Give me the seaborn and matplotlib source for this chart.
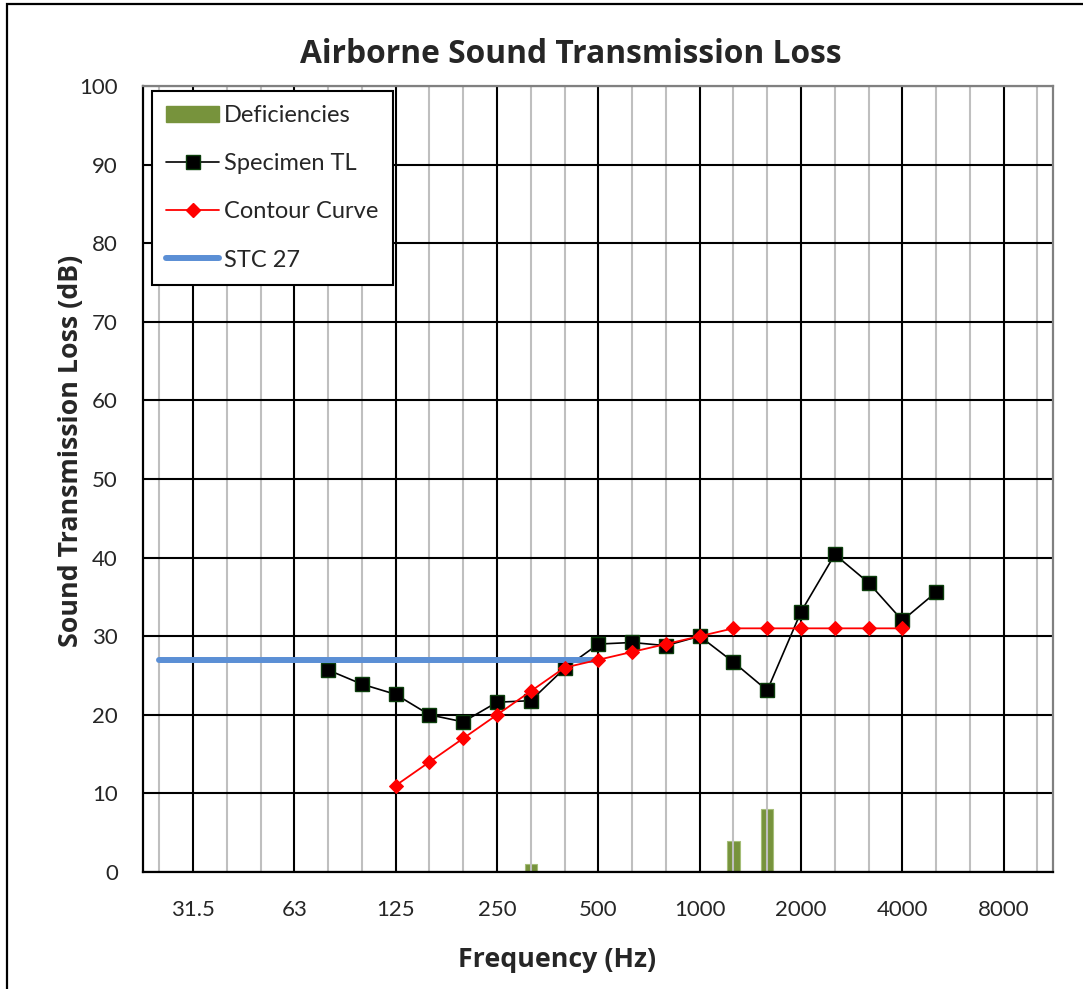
import matplotlib
matplotlib.use("Agg")
import matplotlib.pyplot as plt
from matplotlib.patches import Rectangle
from matplotlib.lines import Line2D
from matplotlib.patches import Patch
import seaborn as sns
import pandas as pd
import numpy as np

# ---- data ----
bands = ['25', '31.5', '40', '50', '63', '80', '100', '125', '160', '200', '250', '315',
         '400', '500', '630', '800', '1000', '1250', '1600', '2000', '2500', '3150',
         '4000', '5000', '6300', '8000', '10000']
label_bands = ['31.5', '63', '125', '250', '500', '1000', '2000', '4000', '8000']

tl_bands = ['80', '100', '125', '160', '200', '250', '315', '400', '500', '630', '800',
            '1000', '1250', '1600', '2000', '2500', '3150', '4000', '5000']
tl_values = [25.7, 23.9, 22.6, 20.0, 19.1, 21.6, 21.8, 25.9, 29.0, 29.2, 28.8,
             30.0, 26.7, 23.1, 33.1, 40.4, 36.8, 32.0, 35.6]

contour_bands = ['125', '160', '200', '250', '315', '400', '500', '630', '800', '1000',
                 '1250', '1600', '2000', '2500', '3150', '4000']
contour_values = [11, 14, 17, 20, 23, 26, 27, 28, 29, 30, 31, 31, 31, 31, 31, 31]

def_bands = ['315', '1250', '1600']
def_values = [1, 4, 8]

stc_bands = ['25', '500']
stc_values = [27, 27]
stc_label = 'STC 27'

# ---- style ----
sns.set_style('white')
plt.rcParams['font.family'] = ['Lato', 'DejaVu Sans']
BOLD = ['Open Sans', 'DejaVu Sans']

W, H = 1083, 989
fig = plt.figure(figsize=(W / 100, H / 100), dpi=100)
L, R, T, B = 143, 1053, 86, 872
ax = fig.add_axes([L / W, 1 - B / H, (R - L) / W, (B - T) / H])

pos = {b: i for i, b in enumerate(bands)}

df_def = pd.DataFrame({'band': def_bands, 'value': def_values})
df_tl = pd.DataFrame({'x': [pos[b] for b in tl_bands], 'y': tl_values})
df_ct = pd.DataFrame({'x': [pos[b] for b in contour_bands], 'y': contour_values})
df_stc = pd.DataFrame({'x': [pos[b] for b in stc_bands], 'y': stc_values})

def_color = '#77933C'
sns.barplot(data=df_def, x='band', y='value', order=bands, color=def_color,
            width=0.36, saturation=1, ax=ax, zorder=0.3, edgecolor='#A5BE78', linewidth=0.8)

sns.lineplot(data=df_tl, x='x', y='y', color='black', lw=1.2, marker='s', markersize=9.5,
             markerfacecolor='black', markeredgecolor='#0B3D0B', markeredgewidth=1.0,
             ax=ax, zorder=2)
sns.lineplot(data=df_stc, x='x', y='y', color='#5B8FD5', lw=4.3, ax=ax, zorder=3,
             solid_capstyle='round')
sns.lineplot(data=df_ct, x='x', y='y', color='#FF0000', lw=1.3, marker='D', markersize=7,
             markerfacecolor='#FF0000', markeredgecolor='#FF0000', ax=ax, zorder=4)

ax.set_xlim(-0.48, len(bands) - 0.54)
ax.set_ylim(0, 100)

major = [pos[b] for b in label_bands]
minor = [i for i in range(len(bands)) if i not in major]
ax.set_xticks(major)
ax.set_xticklabels(label_bands)
ax.set_xticks(minor, minor=True)
ax.set_yticks(np.arange(0, 101, 10))
ax.set_axisbelow(True)
ax.grid(which='major', axis='both', color='black', lw=1.5)
ax.grid(which='minor', axis='x', color='#BFBFBF', lw=1.5)
ax.tick_params(axis='both', which='both', length=0, labelsize=16)
ax.tick_params(axis='x', pad=20)
ax.tick_params(axis='y', pad=18)

for s in ['left', 'bottom']:
    ax.spines[s].set_color('black')
    ax.spines[s].set_linewidth(1.6)
for s in ['top', 'right']:
    ax.spines[s].set_color('#808080')
    ax.spines[s].set_linewidth(1.6)

ax.set_xlabel('Frequency (Hz)', fontsize=19.3, fontweight='bold', family=BOLD)
ax.xaxis.set_label_coords((557 - L) / (R - L), (B - 947) / (B - T))
ax.set_ylabel('Sound Transmission Loss (dB)', fontsize=19.3, fontweight='bold', family=BOLD)
ax.yaxis.set_label_coords((84 - L) / (R - L), (B - 451) / (B - T))
ax.set_title('Airborne Sound Transmission Loss', fontsize=22.9, fontweight='bold', family=BOLD,
             x=(571 - L) / (R - L), y=(B - 63) / (B - T), pad=0)

handles = [
    Patch(facecolor=def_color, edgecolor=def_color),
    Line2D([], [], color='black', lw=1.2, marker='s', markersize=9.5,
           markerfacecolor='black', markeredgecolor='#0B3D0B'),
    Line2D([], [], color='#FF0000', lw=1.3, marker='D', markersize=7,
           markerfacecolor='#FF0000', markeredgecolor='#FF0000'),
    Line2D([], [], color='#5B8FD5', lw=4.3, solid_capstyle='round'),
]
labels = ['Deficiencies', 'Specimen TL', 'Contour Curve', stc_label]
leg = ax.legend(handles, labels, loc='upper left',
                bbox_to_anchor=((152 - L) / (R - L), (B - 91) / (B - T)),
                borderaxespad=0, fontsize=17, frameon=True, fancybox=False,
                edgecolor='black', framealpha=1, handlelength=2.25, handletextpad=0.2,
                labelspacing=1.15, borderpad=0.6)
leg.get_frame().set_linewidth(1.5)
leg.set_zorder(10)

fig.add_artist(Rectangle((7 / W, -0.1), 1.2, 1 - 4 / H + 0.1, transform=fig.transFigure,
                         fill=False, edgecolor='black', lw=1.6))

fig.savefig('out.png', dpi=100)
